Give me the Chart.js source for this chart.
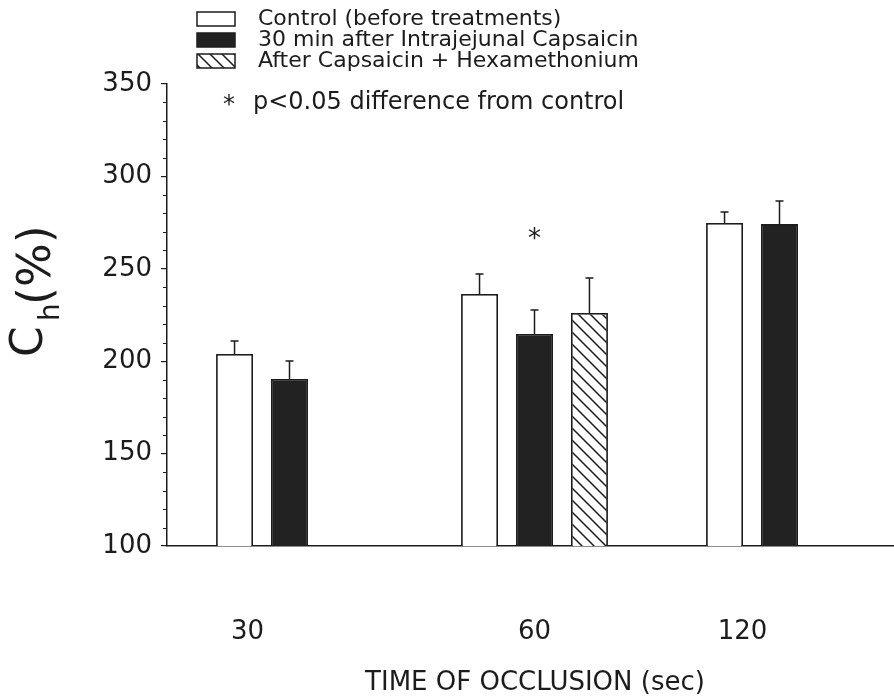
<!DOCTYPE html>
<html lang="en">
<head>
    <meta charset="UTF-8">
    <title>Ch (%) vs time of occlusion</title>
    <script src="https://cdn.jsdelivr.net/npm/chart.js"></script>
    <style>
        html, body { margin: 0; padding: 0; background: #fff; overflow: hidden; }
        .wrap { width: 894px; height: 699px; overflow: hidden; }
    </style>
</head>
<body>
<div class="wrap">
    <canvas id="chChart" width="910" height="699"></canvas>
</div>

<script>
    // values
    const categories = ['30', '60', '120'];
    const controlMean = [203.9, 236.4, 274.8];
    const capsMean = [190.4, 214.7, 274.2];
    const hexMean = [null, 226.1, null];
    const controlErr = [7.0, 10.8, 5.9];
    const capsErr = [9.7, 13.0, 12.5];
    const hexErr = [null, 18.9, null];
    const capsSignificant = [false, true, false];

    const yMin = 100, yMax = 350, yStep = 10, yLabelStep = 50;

    const seriesLabels = [
        'Control (before treatments)',
        '30 min after Intrajejunal Capsaicin',
        'After Capsaicin + Hexamethonium'
    ];
    const footnote = 'p<0.05 difference from control';
    const xTitle = 'TIME OF OCCLUSION (sec)';

    const ink = '#1c1c1c';
    const font = '"DejaVu Sans", sans-serif';

    // diagonal hatch for the hexamethonium bar
    function hatch() {
        const s = 12;
        const c = document.createElement('canvas');
        c.width = s; c.height = s;
        const g = c.getContext('2d');
        g.fillStyle = '#fff';
        g.fillRect(0, 0, s, s);
        g.strokeStyle = ink;
        g.lineWidth = 1.5;
        g.beginPath();
        g.moveTo(-2, -2); g.lineTo(s + 2, s + 2);
        g.moveTo(-2, s - 2); g.lineTo(2, s + 2);
        g.moveTo(s - 2, -2); g.lineTo(s + 2, 2);
        g.stroke();
        return g.createPattern(c, 'repeat');
    }
    const hatchFill = hatch();

    const errors = [controlErr, capsErr, hexErr];

    const extrasPlugin = {
        id: 'extras',
        afterDatasetsDraw(chart) {
            const ctx = chart.ctx;
            const y = chart.scales.y;
            ctx.save();
            ctx.strokeStyle = ink;
            ctx.lineWidth = 1.5;

            // minor ticks (every 10) shorter than the labelled ones
            const left = chart.chartArea.left;
            ctx.beginPath();
            for (let v = yMin; v <= yMax; v += yStep) {
                if (v % yLabelStep === 0) continue;
                const py = Math.round(y.getPixelForValue(v)) + 0.5;
                ctx.moveTo(left - 4, py);
                ctx.lineTo(left, py);
            }
            ctx.lineWidth = 1.2;
            ctx.stroke();

            ctx.lineWidth = 1.5;
            chart.data.datasets.forEach((ds, di) => {
                const meta = chart.getDatasetMeta(di);
                meta.data.forEach((bar, i) => {
                    const v = ds.data[i];
                    if (v == null) return;
                    const top = y.getPixelForValue(v + errors[di][i]);
                    ctx.beginPath();
                    ctx.moveTo(bar.x, bar.y);
                    ctx.lineTo(bar.x, top);
                    ctx.moveTo(bar.x - 4, top);
                    ctx.lineTo(bar.x + 4, top);
                    ctx.stroke();
                    if (di === 1 && capsSignificant[i]) {
                        ctx.fillStyle = ink;
                        ctx.font = '26px ' + font;
                        ctx.textAlign = 'center';
                        ctx.textBaseline = 'middle';
                        ctx.fillText('*', bar.x, top - 70);
                    }
                });
            });
            ctx.restore();
        },
        afterDraw(chart) {
            const ctx = chart.ctx;
            const x = chart.scales.x;
            ctx.save();
            ctx.fillStyle = ink;

            // x tick labels
            const shift = [-42, 0, -37];
            ctx.font = '26px ' + font;
            ctx.textAlign = 'center';
            ctx.textBaseline = 'middle';
            categories.forEach((c, i) => {
                ctx.fillText(c, x.getPixelForValue(i) + shift[i], 632);
            });
            ctx.fillText(xTitle, 535, 683);

            // y title: C subscript h (%)
            ctx.translate(42, 357);
            ctx.rotate(-Math.PI / 2);
            ctx.textAlign = 'left';
            ctx.textBaseline = 'alphabetic';
            ctx.font = '44px ' + font;
            ctx.fillText('C', 0, 0);
            ctx.font = '28px ' + font;
            ctx.fillText('h', 36, 17);
            ctx.font = '46px ' + font;
            ctx.fillText('(%)', 52, 8);
            ctx.setTransform(1, 0, 0, 1, 0, 0);

            // legend
            const fills = chart.data.datasets.map(d => d.backgroundColor);
            const rows = [19, 40, 61];
            ctx.font = '22px ' + font;
            ctx.textBaseline = 'middle';
            seriesLabels.forEach((t, i) => {
                ctx.fillStyle = fills[i];
                ctx.fillRect(197, rows[i] - 7, 38, 14);
                ctx.strokeStyle = ink;
                ctx.lineWidth = 1.5;
                ctx.strokeRect(197, rows[i] - 7, 38, 14);
                ctx.fillStyle = ink;
                ctx.fillText(t, 258, rows[i]);
            });
            ctx.font = '24px ' + font;
            ctx.textAlign = 'center';
            ctx.fillText('*', 229, 106);
            ctx.textAlign = 'left';
            ctx.fillText(footnote, 253, 103);
            ctx.restore();
        }
    };

    const ctx = document.getElementById('chChart').getContext('2d');
    new Chart(ctx, {
        type: 'bar',
        data: {
            labels: categories,
            datasets: [
                { label: seriesLabels[0], data: controlMean, backgroundColor: '#ffffff', borderColor: ink, borderWidth: 1.8 },
                { label: seriesLabels[1], data: capsMean, backgroundColor: '#222222', borderColor: ink, borderWidth: 1.8 },
                { label: seriesLabels[2], data: hexMean, backgroundColor: hatchFill, borderColor: ink, borderWidth: 1.8 }
            ]
        },
        options: {
            responsive: false,
            animation: false,
            devicePixelRatio: 1,
            categoryPercentage: 0.673,
            barPercentage: 0.673,
            layout: { padding: { left: 0, top: 84, right: 8, bottom: 0 } },
            plugins: {
                legend: { display: false },
                tooltip: { enabled: false }
            },
            scales: {
                x: {
                    grid: { display: false },
                    border: { display: true, color: ink, width: 1.5 },
                    ticks: { display: false },
                    afterFit(scale) { scale.height = 153; }
                },
                y: {
                    min: yMin,
                    max: yMax,
                    grid: {
                        drawOnChartArea: false,
                        drawTicks: true,
                        tickLength: 6,
                        lineWidth: 1.2,
                        color: c => (c.tick && c.tick.value % yLabelStep === 0 ? ink : 'rgba(0,0,0,0)')
                    },
                    border: { display: true, color: ink, width: 1.5 },
                    ticks: {
                        stepSize: yStep,
                        autoSkip: false,
                        padding: 9,
                        color: ink,
                        font: { family: font, size: 26 },
                        callback: v => (v % yLabelStep === 0 ? v : '')
                    },
                    afterFit(scale) { scale.width = 167; }
                }
            }
        },
        plugins: [extrasPlugin]
    });
</script>
</body>
</html>
